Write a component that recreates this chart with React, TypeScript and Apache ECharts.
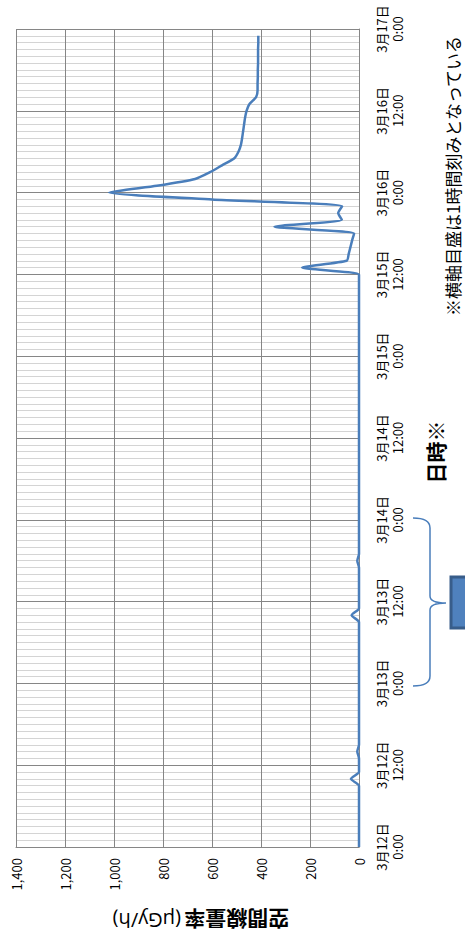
import React, { useEffect, useRef } from "react";
import * as echarts from "echarts";

// Hourly air dose rate (μGy/h), 3/12 0:00 (hour 0) ... 3/16 23:00 (hour 119)
const doseRate: number[] = [
  // 3/12 0:00 - 23:00
  0, 0, 0, 0, 0, 0, 0, 0, 0, 0, 33, 0, 0, 0, 7, 0, 0, 0, 0, 0, 0, 0, 0, 0,
  // 3/13
  0, 0, 0, 0, 0, 0, 0, 0, 0, 0, 30, 0, 0, 0, 0, 0, 0, 0, 7, 0, 0, 0, 0, 0,
  // 3/14
  0, 0, 0, 0, 0, 0, 0, 0, 0, 0, 0, 0, 0, 0, 0, 0, 0, 0, 0, 0, 0, 0, 0, 0,
  // 3/15
  0, 0, 0, 0, 0, 0, 0, 0, 0, 0, 0, 0, 0, 232, 50, 42, 35, 28, 20, 345, 70, 85, 69, 600,
  // 3/16
  1020, 825, 669, 608, 559, 510, 492, 482, 477, 473, 469, 465, 459, 447, 420, 414,
  414, 413, 413, 412, 412, 412, 411, 411,
];

const hourTickLabels: string[] = [
  "3月12日\n0:00",
  "3月12日\n12:00",
  "3月13日\n0:00",
  "3月13日\n12:00",
  "3月14日\n0:00",
  "3月14日\n12:00",
  "3月15日\n0:00",
  "3月15日\n12:00",
  "3月16日\n0:00",
  "3月16日\n12:00",
  "3月17日\n0:00",
];

const valueAxisTitle = "空間線量率";
const valueAxisUnit = "(μGy/h)";
const timeAxisTitle = "日時※";
const noteText = "※横軸目盛は1時間刻みとなっている";

const FONT = "'Noto Sans CJK JP', 'Open Sans', sans-serif";

let braceRegistered = false;
function registerBrace() {
  if (braceRegistered) return;
  const d =
    "M413,518 Q430,518 430,528 L430,596 Q430,603 446,603 Q430,603 430,610 L430,676 Q430,686 413,686";
  echarts.graphic.registerShape("brace", echarts.graphic.extendPath(d, {}));
  braceRegistered = true;
}

export default function App() {
  const ref = useRef<HTMLDivElement>(null);

  useEffect(() => {
    if (!ref.current) return;
    registerBrace();
    const chart = echarts.init(ref.current, undefined, { renderer: "svg" });
    const grey = "#868686";
    chart.setOption({
      animation: false,
      backgroundColor: "#ffffff",
      grid: { left: 16, right: 106, top: 29, bottom: 93, containLabel: false },
      xAxis: {
        type: "value",
        min: 0,
        max: 1400,
        interval: 200,
        inverse: true,
        axisLine: { show: true, lineStyle: { color: grey, width: 1 } },
        axisTick: { show: false },
        axisLabel: {
          rotate: 90,
          fontSize: 13,
          color: "#000",
          margin: 11,
          fontFamily: FONT,
          formatter: (v: number) => v.toLocaleString("en-US"),
        },
        splitLine: { show: true, lineStyle: { color: grey, width: 1 } },
      },
      yAxis: {
        type: "value",
        min: 0,
        max: 120,
        interval: 12,
        position: "right",
        axisLine: { show: true, onZero: false, lineStyle: { color: grey, width: 1 } },
        axisTick: { show: false },
        minorTick: { show: false, splitNumber: 12 },
        minorSplitLine: { show: true, lineStyle: { color: "#d4d4d4", width: 1 } },
        splitLine: { show: true, lineStyle: { color: grey, width: 1 } },
        axisLabel: {
          rotate: 90,
          fontSize: 13,
          lineHeight: 16,
          color: "#000",
          margin: 14,
          fontFamily: FONT,
          formatter: (v: number) => hourTickLabels[Math.round(v / 12)] ?? "",
        },
      },
      series: [
        {
          type: "line",
          data: doseRate.map((v, i) => [v, i]),
          showSymbol: false,
          smooth: 0.2,
          lineStyle: { color: "#4A7EBB", width: 2.5 },
          z: 5,
        },
      ],
      graphic: [
        {
          type: "text",
          x: 201,
          y: 920,
          rotation: Math.PI,
          style: {
            text: "{a|" + valueAxisTitle + "} {b|" + valueAxisUnit + "}",
            rich: {
              a: { fontSize: 21, fontWeight: "bold", fontFamily: FONT, fill: "#000" },
              b: { fontSize: 20, fontWeight: "normal", fontFamily: "'Open Sans', sans-serif", fill: "#000" },
            },
            align: "center",
            verticalAlign: "middle",
          },
        },
        {
          type: "text",
          x: 435,
          y: 452,
          rotation: Math.PI / 2,
          style: {
            text: timeAxisTitle,
            fontSize: 21,
            fontWeight: "bold",
            fontFamily: FONT,
            fill: "#000",
            align: "center",
            verticalAlign: "middle",
          },
        },
        {
          type: "text",
          x: 452,
          y: 176,
          rotation: Math.PI / 2,
          style: {
            text: noteText,
            fontSize: 17,
            fontFamily: FONT,
            fill: "#000",
            align: "center",
            verticalAlign: "middle",
          },
        },
        {
          type: "brace",
          x: 0,
          y: 0,
          style: { stroke: "#4A7EBB", fill: "none", lineWidth: 1.5 },
        },
        {
          type: "rect",
          shape: { x: 451, y: 577, width: 30, height: 51 },
          style: { fill: "#4F81BD", stroke: "#385D8A", lineWidth: 3 },
        },
      ],
    });
    return () => chart.dispose();
  }, []);

  return (
    <div
      ref={ref}
      style={{ position: "fixed", left: 0, top: 0, width: 465, height: 940 }}
    />
  );
}
